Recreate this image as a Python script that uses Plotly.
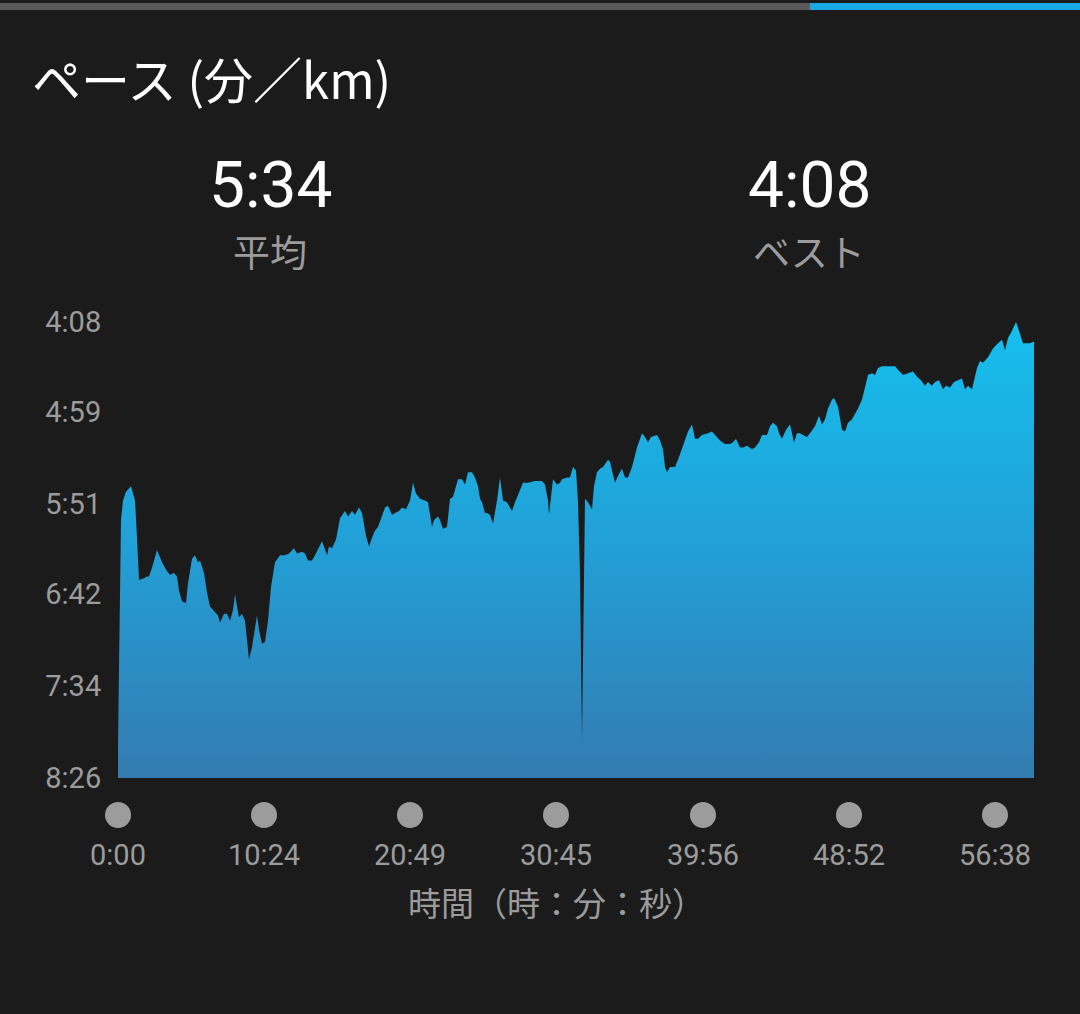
import plotly.graph_objects as go

# ---- data -------------------------------------------------------------
# distance along the run (m) and pace (seconds per km)
distance_m = [
    0, 10, 20, 30, 50, 80, 130, 170, 190, 210, 260, 290, 310, 340, 390, 440, 490, 520, 560, 590,
    610, 640, 680, 700, 740, 770, 800, 820, 860, 890, 920, 970, 1000, 1020, 1060, 1090, 1120, 1150, 1170, 1190,
    1210, 1240, 1270, 1310, 1340, 1370, 1390, 1410, 1440, 1470, 1500, 1530, 1570, 1620, 1670, 1710, 1760, 1790, 1840, 1870,
    1900, 1940, 1970, 2040, 2060, 2090, 2110, 2140, 2180, 2220, 2270, 2300, 2340, 2370, 2410, 2440, 2480, 2510, 2540, 2570,
    2600, 2640, 2670, 2700, 2740, 2770, 2810, 2840, 2880, 2920, 2950, 2980, 3020, 3070, 3100, 3140, 3160, 3200, 3220, 3250,
    3290, 3320, 3350, 3400, 3440, 3470, 3500, 3540, 3570, 3600, 3620, 3640, 3670, 3690, 3720, 3750, 3790, 3820, 3850, 3890,
    3920, 3940, 3970, 4020, 4050, 4100, 4170, 4240, 4270, 4300, 4310, 4330, 4350, 4390, 4420, 4440, 4490, 4520, 4550, 4580,
    4600, 4620, 4630, 4640, 4650, 4660, 4670, 4700, 4740, 4760, 4790, 4820, 4850, 4900, 4920, 4940, 4970, 5000, 5040, 5070,
    5100, 5140, 5190, 5240, 5270, 5300, 5330, 5390, 5420, 5450, 5470, 5490, 5520, 5570, 5600, 5650, 5700, 5740, 5770, 5800,
    5840, 5900, 5940, 5970, 6020, 6070, 6120, 6150, 6180, 6220, 6250, 6290, 6340, 6370, 6410, 6440, 6490, 6520, 6550, 6590,
    6610, 6640, 6680, 6720, 6740, 6760, 6790, 6820, 6850, 6890, 6920, 6970, 7010, 7040, 7070, 7100, 7140, 7160, 7200, 7220,
    7240, 7270, 7300, 7340, 7370, 7400, 7440, 7470, 7500, 7540, 7570, 7600, 7640, 7700, 7770, 7800, 7850, 7900, 7950, 7990,
    8030, 8070, 8100, 8140, 8170, 8210, 8250, 8280, 8320, 8360, 8400, 8440, 8470, 8500, 8540, 8590, 8620, 8650, 8700, 8750,
    8800, 8840, 8870, 8900, 8940, 8980, 9010, 9050, 9090, 9120, 9160,
]
pace_s = [
    487, 443, 400, 360, 349, 344, 341, 349, 370, 394, 393, 392, 392, 387, 377, 384, 389, 391, 390, 392,
    400, 406, 407, 396, 382, 380, 384, 383, 390, 401, 409, 412, 414, 418, 413, 413, 417, 411, 402, 409,
    415, 413, 417, 439, 432, 421, 414, 422, 430, 429, 417, 398, 384, 380, 380, 379, 376, 379, 378, 379,
    383, 383, 380, 372, 375, 380, 375, 376, 371, 359, 355, 358, 355, 357, 353, 356, 369, 375, 370, 366,
    364, 358, 353, 352, 357, 356, 355, 353, 354, 349, 339, 345, 348, 349, 350, 364, 360, 358, 360, 365,
    364, 348, 347, 337, 337, 340, 333, 333, 336, 341, 348, 350, 356, 356, 357, 362, 349, 336, 349, 350,
    353, 355, 350, 343, 339, 339, 338, 338, 340, 349, 357, 347, 337, 340, 339, 337, 336, 336, 330, 332,
    350, 390, 439, 485, 439, 371, 348, 350, 354, 341, 333, 331, 330, 326, 327, 332, 339, 335, 331, 336,
    336, 330, 319, 311, 313, 316, 313, 312, 315, 320, 330, 333, 330, 330, 326, 318, 310, 306, 314, 314,
    312, 311, 310, 312, 315, 317, 317, 316, 314, 319, 319, 318, 320, 319, 316, 312, 312, 307, 305, 307,
    311, 314, 309, 306, 311, 316, 311, 311, 312, 313, 311, 307, 301, 306, 303, 297, 292, 291, 296, 303,
    309, 310, 305, 303, 300, 297, 292, 284, 278, 277, 278, 274, 273, 273, 273, 275, 278, 277, 276, 279,
    281, 284, 282, 284, 282, 281, 286, 284, 285, 282, 281, 280, 286, 284, 286, 274, 270, 271, 268, 263,
    260, 258, 264, 257, 253, 248, 253, 260, 260, 260, 259,
]

# axis (pace) ticks
pace_ticks = [248, 299, 351, 402, 454, 506]
pace_tick_labels = ["4:08", "4:59", "5:51", "6:42", "7:34", "8:26"]

# x ticks: equal distance steps labelled with the elapsed time
dist_ticks = [0, 1460, 2920, 4380, 5850, 7310, 8770]
time_tick_labels = ["0:00", "10:24", "20:49", "30:45", "39:56", "48:52", "56:38"]
dist_max = 9170

avg_pace = "5:34"
best_pace = "4:08"

# ---- styling ----------------------------------------------------------
BG = "#1b1b1b"
GREY = "#9c9c9c"
JP = "Noto Sans CJK JP"
NUM = "Roboto"

W, H = 1080, 1014
L, R, T, B = 118, 45, 322, 236
pw, ph = W - L - R, H - T - B


def px_x(px):
    return (px - L) / pw


def px_y(py):
    return (H - B - py) / ph


fig = go.Figure()

# invisible baseline at the slowest pace (bottom of the axis)
fig.add_trace(go.Scatter(
    x=[distance_m[0], distance_m[-1]], y=[pace_ticks[-1]] * 2,
    mode="lines", line=dict(width=0), hoverinfo="skip", showlegend=False,
))
fig.add_trace(go.Scatter(
    x=distance_m, y=pace_s, mode="lines", line=dict(width=0, color="#1ab0e4"),
    fill="tonexty",
    fillgradient=dict(type="vertical",
                      colorscale=[[0, "#337bb0"], [0.5, "#229fd6"], [1, "#15bfee"]],
                      start=pace_ticks[-1], stop=pace_ticks[0]),
    showlegend=False,
))

fig.update_xaxes(
    range=[0, dist_max], showgrid=False, zeroline=False, showline=False,
    tickvals=dist_ticks, ticktext=time_tick_labels,
    ticks="outside", ticklen=51, tickcolor="rgba(0,0,0,0)",
    tickfont=dict(family=NUM, size=29, color=GREY),
)
fig.update_yaxes(
    range=[pace_ticks[-1], pace_ticks[0]], showgrid=False, zeroline=False, showline=False,
    tickvals=pace_ticks, ticktext=pace_tick_labels,
    ticks="outside", ticklen=10, tickcolor="rgba(0,0,0,0)",
    tickfont=dict(family=NUM, size=29, color=GREY),
)

shapes = []
# progress bar at the very top
shapes.append(dict(type="line", xref="paper", yref="paper", x0=px_x(0), x1=px_x(810),
                   y0=px_y(6.5), y1=px_y(6.5), line=dict(color="#5a5a5a", width=7)))
shapes.append(dict(type="line", xref="paper", yref="paper", x0=px_x(810), x1=px_x(1080),
                   y0=px_y(6.5), y1=px_y(6.5), line=dict(color="#1aa7e6", width=7)))
# grey dots marking the x ticks
for d in dist_ticks:
    shapes.append(dict(type="circle", xref="paper", yref="paper",
                       xsizemode="pixel", ysizemode="pixel",
                       xanchor=d / dist_max, yanchor=px_y(815),
                       x0=-13, x1=13, y0=-13, y1=13,
                       fillcolor=GREY, line=dict(width=0)))

annotations = [
    dict(text="ペース (分／km)", x=px_x(30), y=px_y(78), xanchor="left", yanchor="middle",
         font=dict(family=JP, size=49, color="#ffffff")),
    dict(text=avg_pace, x=px_x(270), y=px_y(186), xanchor="center", yanchor="middle",
         font=dict(family=NUM, size=64, color="#ffffff")),
    dict(text=best_pace, x=px_x(809), y=px_y(186), xanchor="center", yanchor="middle",
         font=dict(family=NUM, size=64, color="#ffffff")),
    dict(text="平均", x=px_x(270), y=px_y(251), xanchor="center", yanchor="middle",
         font=dict(family=JP, size=37, color=GREY)),
    dict(text="ベスト", x=px_x(809), y=px_y(251), xanchor="center", yanchor="middle",
         font=dict(family=JP, size=37, color=GREY)),
    dict(text="時間（時：分：秒）", x=px_x(556), y=px_y(902), xanchor="center", yanchor="middle",
         font=dict(family=JP, size=33, color=GREY)),
]
for a in annotations:
    a.update(xref="paper", yref="paper", showarrow=False)

fig.update_layout(
    width=W, height=H, margin=dict(l=L, r=R, t=T, b=B),
    paper_bgcolor=BG, plot_bgcolor=BG,
    shapes=shapes, annotations=annotations, showlegend=False,
)

fig.write_html(
    "out.html",
    config={"displayModeBar": False},
    post_script="document.body.style.margin='0';document.body.style.background='#1b1b1b';",
)
